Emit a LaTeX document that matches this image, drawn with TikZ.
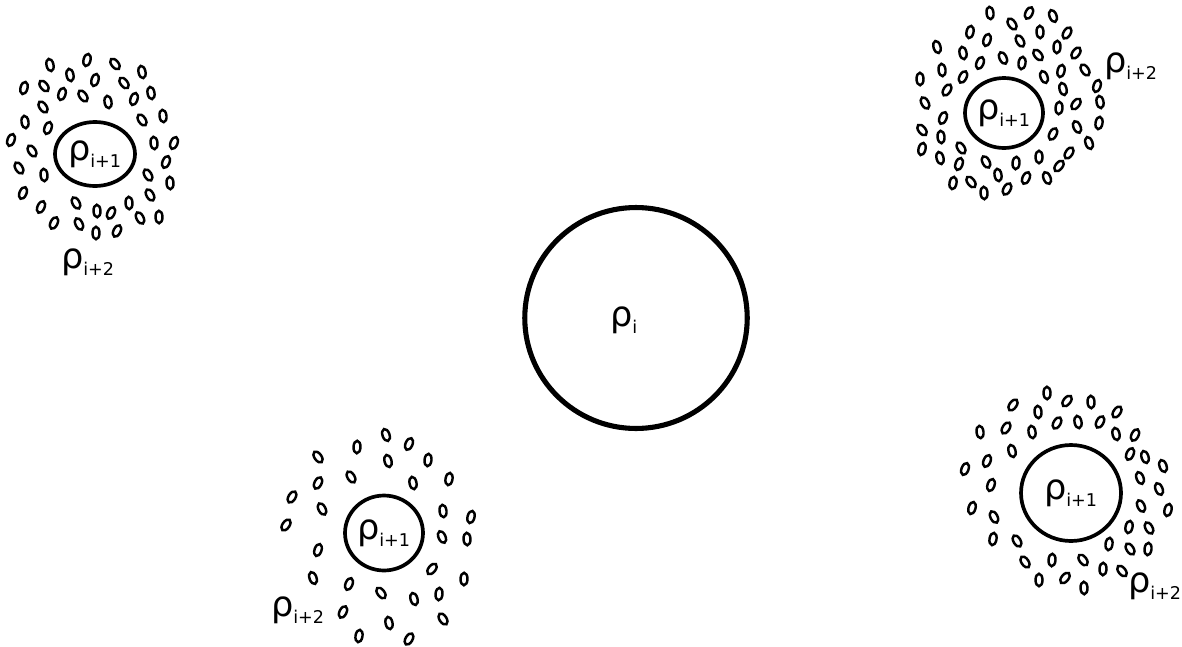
\documentclass[tikz,border=0pt]{standalone}
\usepackage{fontspec}
\setmainfont{DejaVu Sans}
\usetikzlibrary{shapes.geometric}
\newcommand{\rhos}[1]{ρ\kern-0.5pt\raisebox{-4pt}{\fontsize{10}{12}\selectfont #1}}

\begin{document}
\begin{tikzpicture}[x=0.02cm,y=-0.02cm,
cell/.style={ellipse,draw,line width=2.9pt,inner sep=0pt,font=\fontsize{20}{24}\selectfont},
sub/.style={ellipse,draw,line width=2.1pt,inner sep=0pt,font=\fontsize{20}{24}\selectfont},
grain/.style={ellipse,draw,line width=1.4pt,inner sep=0pt,minimum width=0.14cm,minimum height=0.25cm},
lab/.style={font=\fontsize{20}{24}\selectfont}]
\useasboundingbox (0,0) rectangle (1182,646);

\node[cell,minimum width=4.45cm,minimum height=4.42cm] (ri) at (636,318) {};
\node[lab] (li) at (624,320) {\rhos{i}};

\node[sub,minimum width=1.6cm,minimum height=1.28cm] (ca) at (95,154) {\rhos{i+1}};
\node[sub,minimum width=1.56cm,minimum height=1.4cm] (cb) at (1004,113) {\rhos{i+1}};
\node[sub,minimum width=1.56cm,minimum height=1.5cm] (cc) at (384,533) {\rhos{i+1}};
\node[sub,minimum width=2.0cm,minimum height=1.92cm] (cd) at (1071,493) {\rhos{i+1}};

\node[lab] (la) at (88,262) {\rhos{i+2}};
\node[lab] (lb) at (1131,66) {\rhos{i+2}};
\node[lab] (lc) at (298,610) {\rhos{i+2}};
\node[lab] (ld) at (1155,586) {\rhos{i+2}};

\foreach \x/\y [count=\k] in {50/65,87/60,115/64,142/72,24/88,44/86,70/75,95/80,124/83,151/93,
  62/94,83/96,108/102,134/99,43/107,25/122,48/128,142/120,163/116,11/140,32/151,154/143,174/143,
  19/168,44/175,166/162,148/175,170/183,23/193,150/195,129/203,41/207,76/203,97/211,111/213,
  140/218,159/217,54/223,79/224,96/233,117/231}
  \pgfmathsetmacro\a{mod(\k*53,80)-40}
  \node[grain,rotate=\a] (ga\k) at (\x,\y) {};

\foreach \x/\y [count=\k] in {990/13,1029/13,1053/16,970/32,1012/24,1040/32,1067/33,937/47,987/40,
  1020/41,1057/47,1076/53,963/53,980/63,1003/58,1022/63,1038/55,942/70,963/77,1044/77,1061/71,
  1085/70,920/79,947/90,1063/89,1097/86,925/103,1059/108,1076/104,1100/102,943/118,1077/127,
  1099/123,922/130,941/137,1053/134,1089/143,922/149,961/148,1039/157,1069/153,940/158,959/164,
  986/162,1016/163,1059/166,998/175,1026/178,1047/178,953/183,971/182,984/193,1007/189}
  \pgfmathsetmacro\a{mod(\k*47,80)-40}
  \node[grain,rotate=\a] (gb\k) at (\x,\y) {};

\foreach \x/\y [count=\k] in {386/435,357/447,409/444,318/457,388/461,428/460,318/483,351/477,
  413/483,449/479,292/497,322/509,443/511,471/517,286/525,442/537,467/539,318/550,432/569,
  313/578,464/579,349/584,381/593,414/599,439/594,343/612,443/619,389/623,359/636,409/639}
  \pgfmathsetmacro\a{mod(\k*59,80)-40}
  \node[grain,rotate=\a] (gc\k) at (\x,\y) {};

\foreach \x/\y [count=\k] in {1047/393,1067/401,1091/402,1013/405,1038/412,1117/412,980/432,
  1006/428,1032/432,1057/423,1078/422,1100/422,1116/434,1135/435,1012/451,1130/454,1145/457,
  987/461,1163/466,965/469,1140/478,991/485,1159/489,972/508,1141/506,1168/510,994/517,
  1129/527,1149/528,993/539,1017/541,1109/544,1130/549,1148/549,1025/562,1052/560,1083/560,
  1103/569,1122/571,1039/580,1065/578,1084/588}
  \pgfmathsetmacro\a{mod(\k*41,80)-40}
  \node[grain,rotate=\a] (gd\k) at (\x,\y) {};
\end{tikzpicture}
\end{document}
